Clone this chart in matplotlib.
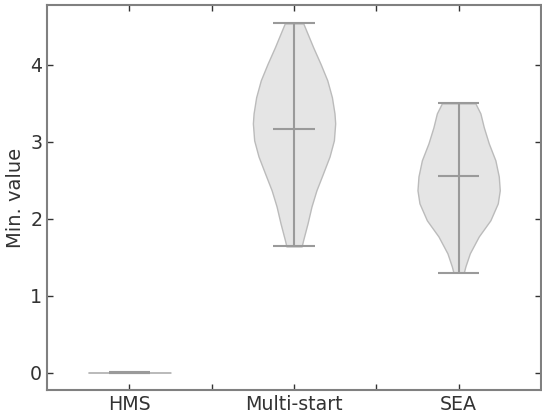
import numpy as np
import matplotlib
matplotlib.use('Agg')
import matplotlib.pyplot as plt

# categories
labels = ['HMS', 'Multi-start', 'SEA']

# density profiles (y value, relative half width)
hms_y = [-0.002, 0.0, 0.002]
hms_w = [0.3, 1.0, 0.3]
hms_med = 0.0

ms_y = [1.64, 1.73, 1.94, 2.16, 2.37, 2.59, 2.81, 3.02, 3.24, 3.37,
        3.58, 3.80, 4.01, 4.23, 4.54]
ms_w = [7.7, 9.4, 13.7, 17.7, 22.7, 29.4, 36.0, 40.4, 41.7, 41.0,
        38.4, 33.7, 27.0, 19.4, 9.4]
ms_med = 3.17

sea_y = [1.30, 1.38, 1.55, 1.77, 1.98, 2.20, 2.37, 2.55, 2.76, 2.98,
         3.19, 3.37, 3.50]
sea_w = [5.2, 6.8, 11.2, 20.2, 31.8, 39.2, 41.2, 40.2, 36.8, 30.2,
         25.2, 21.8, 16.8]
sea_med = 2.56

profiles = [(hms_y, hms_w, hms_med), (ms_y, ms_w, ms_med), (sea_y, sea_w, sea_med)]

vpstats = []
for ys, ws, med in profiles:
    ys = np.array(ys)
    vpstats.append(dict(coords=ys, vals=np.array(ws, dtype=float),
                        mean=med, median=med, min=ys.min(), max=ys.max()))

txt = '#333333'
plt.rcParams['font.family'] = 'DejaVu Sans'
plt.rcParams['font.size'] = 13.7

fig = plt.figure(figsize=(5.42, 4.16), dpi=100)
ax = fig.add_axes([0.087, 0.0625, 0.911, 0.925])

parts = ax.violin(vpstats, positions=[1, 2, 3], widths=0.5,
                  showmeans=False, showextrema=True, showmedians=True)
for b in parts['bodies']:
    b.set_facecolor('#e5e5e5')
    b.set_edgecolor('#bbbbbb')
    b.set_linewidth(1.0)
    b.set_alpha(1)
for k in ['cmaxes', 'cmins', 'cbars', 'cmedians']:
    parts[k].set_color('#9a9a9a')
    parts[k].set_linewidth(1.5)

ax.set_xlim(0.5, 3.5)
ax.set_ylim(-0.2275, 4.7775)
ax.set_xticks([1, 2, 3])
ax.set_xticklabels(labels)
ax.set_xticks([1.5, 2.5], minor=True)
ax.set_yticks([0, 1, 2, 3, 4])
ax.set_ylabel('Min. value', color=txt, fontsize=14)

for s in ax.spines.values():
    s.set_color('#808080')
    s.set_linewidth(1.5)
ax.tick_params(which='both', direction='in', top=True, right=True,
               length=4, width=1, color='#333333', labelcolor=txt)

fig.savefig('out.png', dpi=100)
